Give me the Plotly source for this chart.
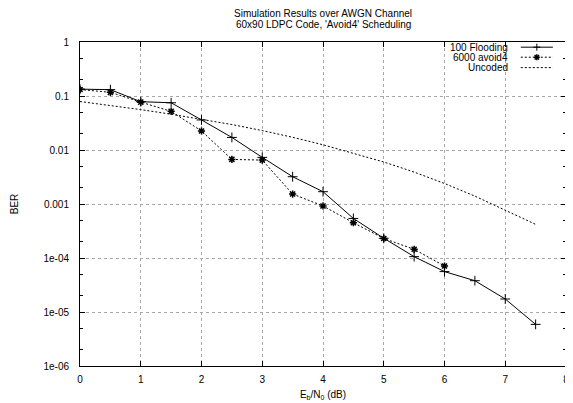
import plotly.graph_objects as go

# ---- data ----
ebn0_flood = [0, 0.5, 1, 1.5, 2, 2.5, 3, 3.5, 4, 4.5, 5, 5.5, 6, 6.5, 7, 7.5]
ber_flood = [0.134, 0.131, 0.0785, 0.075, 0.036, 0.0171, 0.0073, 0.0032, 0.00169,
             0.00054, 0.000232, 0.000106, 5.6e-05, 3.8e-05, 1.74e-05, 5.9e-06]

ebn0_avoid = [0, 0.5, 1, 1.5, 2, 2.5, 3, 3.5, 4, 4.5, 5, 5.5, 6]
ber_avoid = [0.132, 0.117, 0.077, 0.052, 0.0225, 0.0067, 0.0065, 0.00153, 0.00092,
             0.00045, 0.00023, 0.000145, 7.1e-05]

ebn0_unc = [0, 0.5, 1, 1.5, 2, 2.5, 3, 3.5, 4, 4.5, 5, 5.5, 6, 6.5, 7, 7.5]
ber_unc = [0.079, 0.067, 0.056, 0.046, 0.0375, 0.0296, 0.0229, 0.0172, 0.0125,
           0.0087, 0.006, 0.0039, 0.0024, 0.0014, 0.00078, 0.00042]

series_names = ["100 Flooding", "6000 avoid4", "Uncoded"]
title_lines = ["Simulation Results over AWGN Channel", "60x90 LDPC Code, 'Avoid4' Scheduling"]

y_tickvals = [1, 0.1, 0.01, 0.001, 1e-4, 1e-5, 1e-6]
y_ticktext = ["1", "0.1", "0.01", "0.001", "1e-04", "1e-05", "1e-06"]
x_tickvals = [0, 1, 2, 3, 4, 5, 6, 7, 8]

FONT = "Liberation Sans, Arial, Helvetica, sans-serif"
FS = 10
DOTS = "2px,2px"

fig = go.Figure()
fig.add_trace(go.Scatter(
    x=ebn0_unc, y=ber_unc, mode="lines", name=series_names[2],
    line=dict(color="black", width=1, dash=DOTS), showlegend=False))
fig.add_trace(go.Scatter(
    x=ebn0_avoid, y=ber_avoid, mode="lines+markers", name=series_names[1],
    line=dict(color="black", width=1, dash=DOTS),
    marker=dict(symbol="asterisk-open", size=6, color="black",
                line=dict(color="black", width=1.5)), showlegend=False))
fig.add_trace(go.Scatter(
    x=ebn0_flood, y=ber_flood, mode="lines+markers", name=series_names[0],
    line=dict(color="black", width=1),
    marker=dict(symbol="cross-thin-open", size=7, color="black",
                line=dict(color="black", width=1)), showlegend=False))

# gnuplot-style key: text then sample
shapes = []
annotations = []
rows_y = [0.984, 0.953, 0.921]
dashes = ["solid", DOTS, DOTS]
for name, yy, dsh in zip(series_names, rows_y, dashes):
    annotations.append(dict(xref="paper", yref="paper", x=0.884, y=yy, text=name,
                            showarrow=False, xanchor="right", yanchor="middle",
                            font=dict(family=FONT, size=FS, color="black")))
    shapes.append(dict(type="line", xref="paper", yref="paper", x0=0.907, x1=0.973,
                       y0=yy, y1=yy, line=dict(color="black", width=1, dash=dsh)))

def marker_shapes(yy, star):
    segs = [(-3.5, 0, 3.5, 0), (0, -3.5, 0, 3.5)]
    if star:
        segs = [(-3, 0, 3, 0), (0, -3, 0, 3), (-2.2, -2.2, 2.2, 2.2), (-2.2, 2.2, 2.2, -2.2)]
    out = []
    for (a, b, c, d) in segs:
        out.append(dict(type="line", xref="paper", yref="paper",
                        xsizemode="pixel", ysizemode="pixel", xanchor=0.940, yanchor=yy,
                        x0=a, x1=c, y0=b, y1=d,
                        line=dict(color="black", width=1.5 if star else 1)))
    return out

shapes += marker_shapes(rows_y[0], False)
shapes += marker_shapes(rows_y[1], True)

for txt, yy in zip(title_lines, [1.088, 1.054]):
    annotations.append(dict(xref="paper", yref="paper", x=0.5, y=yy,
                            yanchor="middle", xanchor="center", showarrow=False,
                            text=txt, font=dict(family=FONT, size=FS, color="black")))

# page body has an 8px margin, so the figure is sized to the visible area
fig.update_layout(
    width=565, height=395,
    margin=dict(l=72, r=7, t=34, b=37, autoexpand=False),
    paper_bgcolor="white", plot_bgcolor="white",
    font=dict(family=FONT, size=FS, color="black"),
    shapes=shapes, annotations=annotations,
    showlegend=False,
)
fig.update_xaxes(
    range=[0, 8], tickvals=x_tickvals, ticks="inside", ticklen=5, tickcolor="black",
    showline=True, linecolor="black", linewidth=1, mirror="allticks",
    showgrid=True, gridcolor="#a8a8a8", griddash="dot", gridwidth=1, zeroline=False,
    automargin=False, ticklabelstandoff=4,
    title=dict(text="E<sub>b</sub>/N<sub>0</sub> (dB)", standoff=6,
               font=dict(family=FONT, size=FS)),
    tickfont=dict(family=FONT, size=FS),
)
fig.update_yaxes(
    type="log", range=[-6, 0], tickvals=y_tickvals, ticktext=y_ticktext,
    ticks="inside", ticklen=5, tickcolor="black",
    showline=True, linecolor="black", linewidth=1, mirror="allticks",
    showgrid=True, gridcolor="#a8a8a8", griddash="dot", gridwidth=1, zeroline=False,
    automargin=False, ticklabelstandoff=8,
    minor=dict(dtick="D2", ticks="inside", ticklen=3, tickcolor="black", showgrid=False),
    title=dict(text="BER", standoff=22, font=dict(family=FONT, size=FS)),
    tickfont=dict(family=FONT, size=FS),
)

fig.write_html("out.html")
